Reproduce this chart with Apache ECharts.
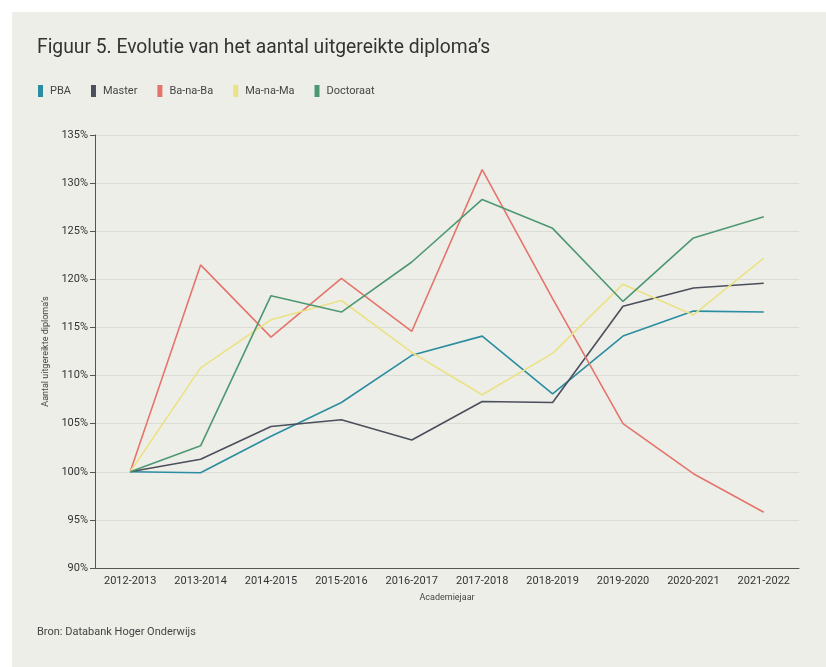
<!DOCTYPE html>
<html lang="nl">
<head>
<meta charset="utf-8">
<title>Figuur 5</title>
<style>
  html, body { margin: 0; padding: 0; background: #ffffff; }
  #chart { width: 826px; height: 667px; }
</style>
</head>
<body>
<div id="chart"></div>
<script src="https://cdn.jsdelivr.net/npm/echarts@6/dist/echarts.min.js"></script>
<script>
// academiejaren
var jaren = ['2012-2013', '2013-2014', '2014-2015', '2015-2016', '2016-2017',
             '2017-2018', '2018-2019', '2019-2020', '2020-2021', '2021-2022'];

// index (2012-2013 = 100%)
var pba       = [100, 99.9, 103.7, 107.2, 112.1, 114.1, 108.1, 114.1, 116.7, 116.6];
var master    = [100, 101.3, 104.7, 105.4, 103.3, 107.3, 107.2, 117.2, 119.1, 119.6];
var banaba    = [100, 121.5, 114.0, 120.1, 114.6, 131.4, 118.0, 105.0, 99.8, 95.8];
var manama    = [100, 110.8, 115.8, 117.8, 112.4, 108.0, 112.3, 119.5, 116.3, 122.2];
var doctoraat = [100, 102.7, 118.3, 116.6, 121.8, 128.3, 125.3, 117.7, 124.3, 126.5];

var yTicks = [90, 95, 100, 105, 110, 115, 120, 125, 130, 135];

var kleuren = ['#2b8da0', '#4b4f5c', '#e5746b', '#ebe285', '#4e9871'];

var myChart = echarts.init(document.getElementById('chart'));

function lijn(naam, data) {
  return {
    name: naam,
    type: 'line',
    data: data,
    symbol: 'none',
    lineStyle: { width: 1.6 },
    emphasis: { disabled: true }
  };
}

var option = {
  backgroundColor: '#ffffff',
  animation: false,
  color: kleuren,
  textStyle: { fontFamily: 'Roboto' },
  graphic: [
    {
      type: 'rect', z: -10, silent: true,
      shape: { x: 12, y: 12, width: 814, height: 655 },
      style: { fill: '#eeeee9' }
    },
    {
      type: 'text', left: 37, top: 39,
      style: { text: 'Figuur 5. Evolutie van het aantal uitgereikte diploma\u2019s',
               fill: '#333', font: '19.3px Roboto' }
    },
    {
      type: 'text', left: 37, top: 627,
      style: { text: 'Bron: Databank Hoger Onderwijs', fill: '#444', font: '11px Roboto' }
    }
  ],
  legend: {
    left: 33, top: 80,
    itemWidth: 5, itemHeight: 12, itemGap: 20,
    icon: 'rect',
    textStyle: { color: '#444', fontSize: 11, padding: [0, 0, 0, 2] },
    data: ['PBA', 'Master', 'Ba-na-Ba', 'Ma-na-Ma', 'Doctoraat']
  },
  grid: { left: 95, right: 27, top: 135, bottom: 99 },
  xAxis: {
    type: 'category',
    data: jaren,
    boundaryGap: true,
    name: 'Academiejaar',
    nameLocation: 'middle',
    nameGap: 25,
    nameTextStyle: { color: '#444', fontSize: 9 },
    axisLine: { lineStyle: { color: '#555', width: 1 } },
    axisTick: { alignWithLabel: true, length: 5, lineStyle: { color: '#555' } },
    axisLabel: { color: '#333', fontSize: 11, margin: 8 }
  },
  yAxis: {
    type: 'value',
    min: yTicks[0],
    max: yTicks[yTicks.length - 1],
    interval: 5,
    name: 'Aantal uitgereikte diploma\u2019s',
    nameLocation: 'middle',
    nameGap: 42,
    nameTextStyle: { color: '#444', fontSize: 9 },
    axisLine: { show: true, lineStyle: { color: '#555', width: 1 } },
    axisTick: { show: true, length: 5, lineStyle: { color: '#555' } },
    axisLabel: { color: '#333', fontSize: 11, margin: 7,
                 formatter: function (v) { return v + '%'; } },
    splitLine: { lineStyle: { color: '#dcdcd7', width: 1 } }
  },
  series: [
    lijn('PBA', pba),
    lijn('Master', master),
    lijn('Ba-na-Ba', banaba),
    lijn('Ma-na-Ma', manama),
    lijn('Doctoraat', doctoraat)
  ]
};

myChart.setOption(option);
</script>
</body>
</html>
